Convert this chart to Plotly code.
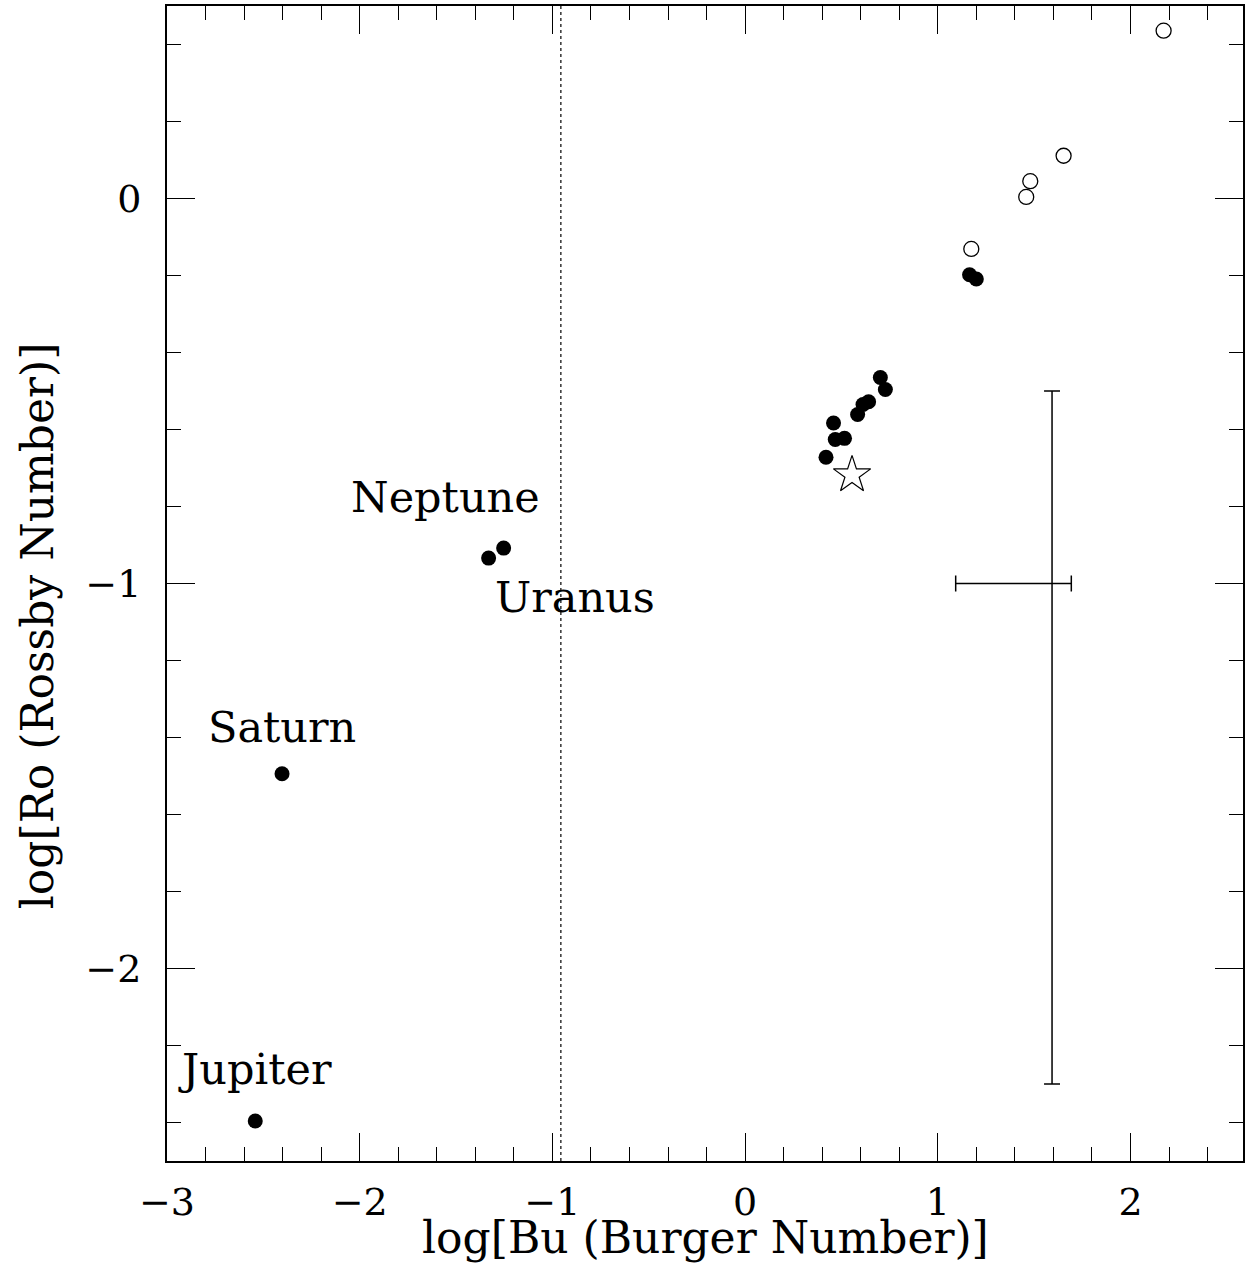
import plotly.graph_objects as go

# ---- data ----
planet_names = ["Jupiter", "Saturn", "Neptune", "Uranus"]
planet_log_bu = [-2.542, -2.403, -1.331, -1.253]
planet_log_ro = [-2.396, -1.494, -0.934, -0.908]

label_x = [-2.544, -2.402, -1.556, -0.884]
label_y = [-2.262, -1.373, -0.776, -1.034]

filled_log_bu = [0.420, 0.459, 0.468, 0.516, 0.584, 0.612, 0.641, 0.702, 0.728, 1.165, 1.200]
filled_log_ro = [-0.672, -0.583, -0.626, -0.623, -0.561, -0.535, -0.528, -0.465, -0.496, -0.198, -0.209]

open_log_bu = [1.174, 1.459, 1.480, 1.653, 2.172]
open_log_ro = [-0.131, 0.004, 0.045, 0.111, 0.436]

star_log_bu = [0.555]
star_log_ro = [-0.718]

err_center_x = [1.593]
err_center_y = [-1.0]
err_x_plus = [0.100]
err_x_minus = [0.500]
err_y_plus = [0.500]
err_y_minus = [1.300]

bu_critical = -0.956

x_range = [-3.0, 2.584]
y_range = [-2.5, 0.5]

FONT = "DejaVu Serif"

fig = go.Figure()

fig.add_trace(go.Scatter(
    x=planet_log_bu, y=planet_log_ro, mode="markers",
    marker=dict(symbol="circle", size=15, color="black"),
    showlegend=False, hoverinfo="skip"))

fig.add_trace(go.Scatter(
    x=filled_log_bu, y=filled_log_ro, mode="markers",
    marker=dict(symbol="circle", size=15, color="black"),
    showlegend=False, hoverinfo="skip"))

fig.add_trace(go.Scatter(
    x=open_log_bu, y=open_log_ro, mode="markers",
    marker=dict(symbol="circle-open", size=15, color="black", line=dict(width=1.3, color="black")),
    showlegend=False, hoverinfo="skip"))

fig.add_trace(go.Scatter(
    x=star_log_bu, y=star_log_ro, mode="markers",
    marker=dict(symbol="star-open", size=28, color="black", line=dict(width=1.2, color="black")),
    showlegend=False, hoverinfo="skip"))

fig.add_trace(go.Scatter(
    x=err_center_x, y=err_center_y, mode="markers",
    marker=dict(size=1, color="rgba(0,0,0,0)"),
    error_x=dict(type="data", symmetric=False, array=err_x_plus, arrayminus=err_x_minus,
                 color="black", thickness=1.5, width=8),
    error_y=dict(type="data", symmetric=False, array=err_y_plus, arrayminus=err_y_minus,
                 color="black", thickness=1.5, width=8),
    showlegend=False, hoverinfo="skip"))

fig.add_shape(type="line", xref="x", yref="paper", x0=bu_critical, x1=bu_critical, y0=0, y1=1,
              line=dict(color="black", width=1.2, dash="dot"))

for name, lx, ly in zip(planet_names, label_x, label_y):
    fig.add_annotation(x=lx, y=ly, xref="x", yref="y", text=name, showarrow=False,
                       xanchor="center", yanchor="middle",
                       font=dict(family=FONT, size=43, color="black"))

fig.add_annotation(x=0.5, y=-0.0666, xref="paper", yref="paper",
                   text="log[Bu (Burger Number)]", showarrow=False,
                   xanchor="center", yanchor="middle",
                   font=dict(family=FONT, size=44, color="black"))
fig.add_annotation(x=-0.1208, y=0.463, xref="paper", yref="paper",
                   text="log[Ro (Rossby Number)]", showarrow=False, textangle=-90,
                   xanchor="center", yanchor="middle",
                   font=dict(family=FONT, size=44, color="black"))

axis_common = dict(
    showgrid=False, zeroline=False, showline=True, linecolor="black", linewidth=2,
    mirror="ticks", ticks="inside", ticklen=28, tickwidth=1.2, tickcolor="black",
    tickfont=dict(family=FONT, size=38, color="black"),
    minor=dict(ticks="inside", ticklen=14, tickwidth=1.2, tickcolor="black", dtick=0.2, showgrid=False),
)

fig.update_xaxes(range=x_range, dtick=1, tick0=0, ticklabelstandoff=6, **axis_common)
fig.update_yaxes(range=y_range, dtick=1, tick0=0, ticklabelstandoff=16, **axis_common)

fig.update_layout(
    width=1251, height=1264,
    margin=dict(l=167, r=8, t=4, b=103),
    paper_bgcolor="white", plot_bgcolor="white",
    font=dict(family=FONT, color="black"),
)

fig.write_html("out.html", config={"displayModeBar": False},
               post_script="document.body.style.margin='0';document.body.style.overflow='hidden';")
